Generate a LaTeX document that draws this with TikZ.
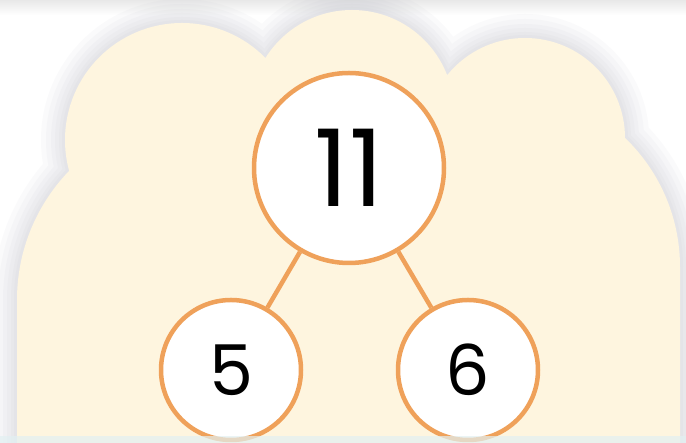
\documentclass[tikz,border=0pt]{standalone}
\usepackage{tikz}
\usepackage{xcolor}
\usepackage{fontspec}
\setmainfont{Poppins}
\definecolor{CloudFill}{HTML}{FEF5DF}
\definecolor{BondOrange}{HTML}{EFA15A}
\definecolor{ShadowGray}{HTML}{A4A6B4}
\definecolor{StripBlue}{HTML}{E2F0F2}
% the cloud is a union of round lobes and a base
\newcommand\cloudlobes{(203,143) circle (186) (182,303) circle (117)
  (352,331) circle (102) (525,305) circle (100) (501,176) circle (179)}
\newcommand\cloudbase{(17,-10) -- (17,143) -- (680,176) -- (680,-10) -- cycle}
\tikzstyle{numnode} = [circle, inner sep=0pt, draw=BondOrange, line width=4.5pt, fill=white, text=black]
\tikzstyle{wholenum} = [numnode, minimum size=190pt, font=\fontsize{107}{110}\selectfont]
\tikzstyle{partnum} = [numnode, minimum size=140pt, font=\fontsize{70}{72}\selectfont]
\tikzset{bond/.style={draw=BondOrange, line width=4.5pt}}

\begin{document}
\begin{tikzpicture}[x=1pt, y=1pt]
\useasboundingbox (0,0) rectangle (686,443);
\clip (0,0) rectangle (686,443);
\fill[white] (0,0) rectangle (686,443);
\shade[top color=gray!18, bottom color=white] (0,428) rectangle (686,443);
% soft shadow round the cloud
\begin{scope}
  \clip (0,143) -- (17,143) -- (680,176) -- (686,176) -- (686,443) -- (0,443) -- cycle;
  \foreach \w in {48,38,28,20,12,6}
    \draw[ShadowGray, line width=\w pt, opacity=0.05] \cloudlobes;
\end{scope}
\foreach \w in {48,38,28,20,12,6}
  \draw[ShadowGray, line width=\w pt, opacity=0.05] (17,-10) -- (17,143) (680,-10) -- (680,176);
\fill[CloudFill] \cloudlobes;
\fill[CloudFill] \cloudbase;
\node[wholenum] (whole) at (349, 275) {11};
\node[partnum] (parta) at (231, 73) {5};
\node[partnum] (partb) at (468, 73) {6};
\draw[bond] (whole) -- (parta);
\draw[bond] (whole) -- (partb);
\fill[StripBlue, opacity=0.7] (0,0) rectangle (686,7);
\end{tikzpicture}
\end{document}
